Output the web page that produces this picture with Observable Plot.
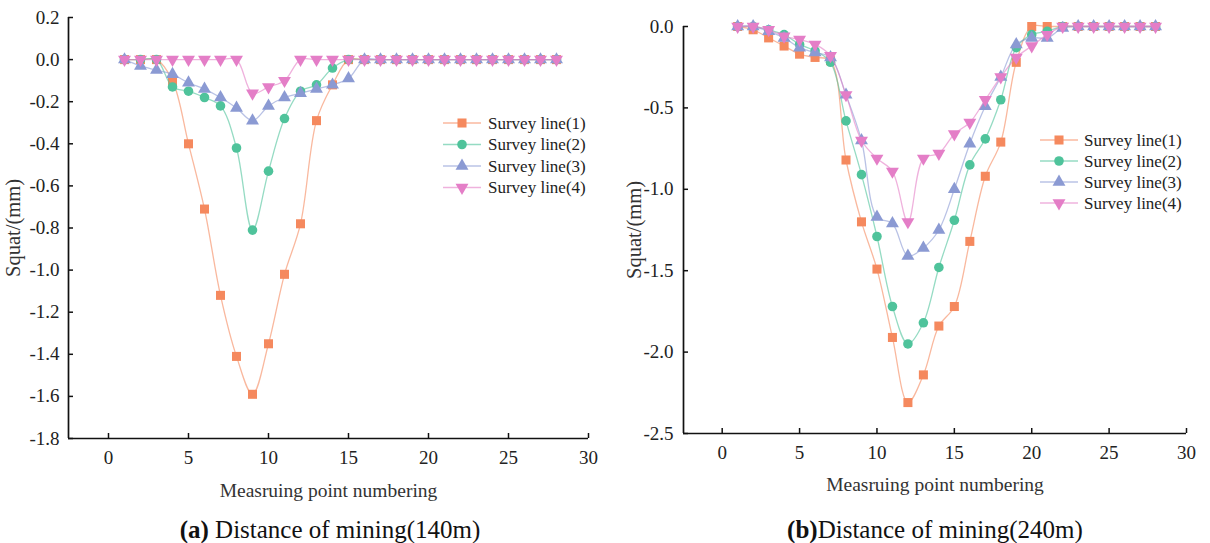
<!DOCTYPE html>
<html><head><meta charset="utf-8">
<script src="https://cdn.jsdelivr.net/npm/d3@7"></script>
<script src="https://cdn.jsdelivr.net/npm/@observablehq/plot@0.6"></script>
<style>
body{margin:0;background:#fff;}
#wrap{position:relative;width:1210px;height:543px;overflow:hidden;font-family:"Liberation Serif","Times New Roman",serif;background:#fff;}
#wrap svg, #wrap svg text{font-family:"Liberation Serif","Times New Roman",serif !important;font-variant-numeric:normal !important;}
.panel{position:absolute;top:0;width:605px;height:510px;}
.cap{position:absolute;top:516px;font-size:25px;line-height:28px;white-space:nowrap;transform:translateX(-50%);color:#111;}
</style></head><body>
<div id="wrap">
  <div id="a" class="panel" style="left:0"></div>
  <div id="b" class="panel" style="left:605px"></div>
  <div class="cap" style="left:330px"><b>(a)</b> Distance of mining(140m)</div>
  <div class="cap" style="left:935px"><b>(b)</b>Distance of mining(240m)</div>
</div>
<script>
// ---- data ----
const points = [1,2,3,4,5,6,7,8,9,10,11,12,13,14,15,16,17,18,19,20,21,22,23,24,25,26,27,28];
const seriesNames = ["Survey line(1)","Survey line(2)","Survey line(3)","Survey line(4)"];
const colors = ["#F5895E","#4FC39B","#8B9AD3","#E47EC7"];

// (a) 140 m
const a1 = [0,0,0,-0.10,-0.40,-0.71,-1.12,-1.41,-1.59,-1.35,-1.02,-0.78,-0.29,-0.12,0,0,0,0,0,0,0,0,0,0,0,0,0,0];
const a2 = [0,0,0,-0.13,-0.15,-0.18,-0.22,-0.42,-0.81,-0.53,-0.28,-0.15,-0.12,-0.04,0,0,0,0,0,0,0,0,0,0,0,0,0,0];
const a3 = [0,-0.03,-0.05,-0.07,-0.11,-0.14,-0.18,-0.23,-0.29,-0.22,-0.18,-0.16,-0.14,-0.12,-0.09,0,0,0,0,0,0,0,0,0,0,0,0,0];
const a4 = [0,0,0,0,0,0,0,0,-0.16,-0.13,-0.10,0,0,0,0,0,0,0,0,0,0,0,0,0,0,0,0,0];

// (b) 240 m
const b1 = [0,-0.02,-0.07,-0.12,-0.17,-0.19,-0.21,-0.82,-1.20,-1.49,-1.91,-2.31,-2.14,-1.84,-1.72,-1.32,-0.92,-0.71,-0.22,0,0,0,0,0,0,0,0,0];
const b2 = [0,0,-0.02,-0.05,-0.11,-0.15,-0.22,-0.58,-0.91,-1.29,-1.72,-1.95,-1.82,-1.48,-1.19,-0.85,-0.69,-0.45,-0.13,-0.05,-0.03,0,0,0,0,0,0,0];
const b3 = [0,0,-0.03,-0.07,-0.13,-0.16,-0.19,-0.42,-0.70,-1.17,-1.21,-1.41,-1.36,-1.25,-1.00,-0.72,-0.49,-0.31,-0.11,-0.07,-0.07,-0.01,0,0,0,0,0,0];
const b4 = [0,0,-0.02,-0.06,-0.08,-0.11,-0.18,-0.42,-0.70,-0.81,-0.89,-1.20,-0.81,-0.78,-0.66,-0.59,-0.45,-0.31,-0.19,-0.12,-0.05,0,0,0,0,0,0,0];

const xTicks = [0,5,10,15,20,25,30];
const yTicksA = [0.2,0,-0.2,-0.4,-0.6,-0.8,-1.0,-1.2,-1.4,-1.6,-1.8];
const yTicksB = [0,-0.5,-1.0,-1.5,-2.0,-2.5];
const xLabel = "Measruing point numbering";
const yLabel = "Squat/(mm)";

const FONT = '"Liberation Serif","Times New Roman",serif';

// ---- symbols ----
const triDown = {draw(ctx, size){
  const y = -Math.sqrt(size / (Math.sqrt(3) * 3));
  ctx.moveTo(0, -y * 2);
  ctx.lineTo(-Math.sqrt(3) * y, y);
  ctx.lineTo(Math.sqrt(3) * y, y);
  ctx.closePath();
}};
const plotSymbols = ["square","circle","triangle",triDown];
const plotR = [5.1,4.8,4.8,4.8];
const d3Symbols = [d3.symbolSquare,d3.symbolCircle,d3.symbolTriangle,triDown];

function makeChart(el, cfg){
  const {values, yDomain, yTicks, ml, mr, mt, mb, height, width, yPad, yLabelDx, legend} = cfg;
  const xDomain = [-2.5, 30];
  const marks = [];
  values.forEach((vals, k) => {
    const rows = vals.map((v, j) => ({x: points[j], y: v}));
    marks.push(Plot.line(rows, {x: "x", y: "y", curve: "catmull-rom", stroke: colors[k], strokeOpacity: 0.6, strokeWidth: 1.3}));
    marks.push(Plot.dot(rows, {x: "x", y: "y", symbol: plotSymbols[k], r: plotR[k], fill: colors[k], stroke: "none"}));
  });
  marks.push(
    Plot.ruleX([xDomain[0]], {y1: yDomain[0], y2: yDomain[1], stroke: "#111", strokeWidth: 1.7}),
    Plot.ruleY([yDomain[0]], {x1: xDomain[0], x2: xDomain[1], stroke: "#111", strokeWidth: 1.7}),
    Plot.axisX(xTicks, {tickSize: -5, tickPadding: 17, fontSize: 19, fontFamily: FONT, label: null, stroke: "#111", strokeWidth: 1.5, fill: "#222", tickFormat: d => String(d)}),
    Plot.axisY(yTicks, {tickSize: -5, tickPadding: yPad, fontSize: 19, fontFamily: FONT, label: null, stroke: "#111", strokeWidth: 1.5, fill: "#222", tickFormat: d => d.toFixed(1)}),
    Plot.text([xLabel], {frameAnchor: "bottom", dy: cfg.xLabelDy, text: d => d, fontSize: 19.5, fontFamily: FONT, lineAnchor: "middle", textAnchor: "middle", fill: "#333"}),
    Plot.text([yLabel], {frameAnchor: "left", dx: yLabelDx, rotate: -90, text: d => d, fontSize: 20.5, fontFamily: FONT, lineAnchor: "middle", textAnchor: "middle", fill: "#333"})
  );
  const svg = Plot.plot({
    width, height,
    marginLeft: ml, marginRight: mr, marginTop: mt, marginBottom: mb,
    x: {domain: xDomain},
    y: {domain: yDomain},
    style: {fontFamily: FONT, fontSize: "16px", background: "transparent", overflow: "visible"},
    marks
  });
  // legend inside the plot area
  const g = d3.select(svg).append("g").attr("font-family", FONT).attr("font-size", 17).attr("text-anchor", "start");
  seriesNames.forEach((name, k) => {
    const y = legend.y0 + k * legend.dy;
    g.append("line").attr("x1", legend.x1).attr("x2", legend.x2).attr("y1", y).attr("y2", y)
      .attr("stroke", colors[k]).attr("stroke-opacity", 0.6).attr("stroke-width", 1.3);
    const size = Math.PI * plotR[k] * plotR[k];
    g.append("path").attr("d", d3.symbol(d3Symbols[k], size)()).attr("fill", colors[k])
      .attr("transform", `translate(${(legend.x1 + legend.x2) / 2},${y})`);
    g.append("text").attr("x", legend.tx).attr("y", y).attr("dy", "0.33em").attr("text-anchor", "start").attr("fill", "#222").text(name);
  });
  document.getElementById(el).appendChild(svg);
}

makeChart("a", {
  values: [a1,a2,a3,a4], yDomain: [-1.8, 0.2], yTicks: yTicksA,
  width: 605, height: 510, ml: 68, mr: 17, mt: 17, mb: 72, yPad: 14,
  xLabelDy: 52, yLabelDx: -55,
  legend: {x1: 443, x2: 481, tx: 488, y0: 123, dy: 21.5}
});
makeChart("b", {
  values: [b1,b2,b3,b4], yDomain: [-2.5, 0], yTicks: yTicksB,
  width: 605, height: 510, ml: 78, mr: 24, mt: 26, mb: 77, yPad: 15,
  xLabelDy: 51, yLabelDx: -49,
  legend: {x1: 435, x2: 473, tx: 479, y0: 140, dy: 21}
});
</script>
</body></html>
